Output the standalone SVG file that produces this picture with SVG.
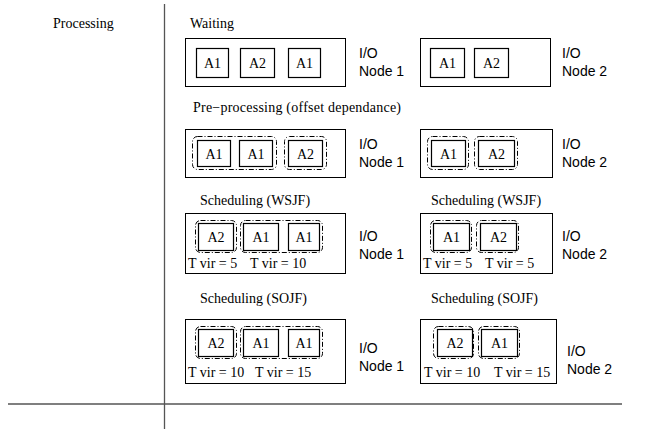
<svg xmlns="http://www.w3.org/2000/svg" width="649" height="429" viewBox="0 0 649 429">
<style>
.t{font-family:"Liberation Serif","Times New Roman",serif;font-size:14px;fill:#000}
.s{font-family:"Liberation Sans",Arial,sans-serif;font-size:14px;fill:#000}
.c{text-anchor:middle}
.box{fill:#fff;stroke:#000;stroke-width:1}
.a{fill:#fff;stroke:#000;stroke-width:1.2}
.g{fill:none;stroke:#000;stroke-width:1;stroke-dasharray:5,2,1,2}
.ln{stroke:#555;stroke-width:1.3;fill:none}
</style>
<g id="axes">
<line class="ln" x1="164.5" y1="4" x2="164.5" y2="429"/>
<line class="ln" x1="8" y1="404" x2="622" y2="404"/>
<text class="t" x="53" y="28">Processing</text>
</g>
<g id="connectors"></g>

<!-- Row 1 Waiting -->
<g id="row1-title"><text class="t" x="190" y="28">Waiting</text></g>
<g id="r1n1">
<rect class="box" x="185.5" y="38.5" width="160" height="48"/>
<rect class="a" x="196.5" y="48.5" width="32" height="29"/><text class="t c" x="212.5" y="68">A1</text>
<rect class="a" x="240.5" y="48.5" width="34" height="29"/><text class="t c" x="257.5" y="68">A2</text>
<rect class="a" x="288.5" y="48.5" width="32" height="29"/><text class="t c" x="304.5" y="68">A1</text>
<text class="s" x="359" y="58">I/O</text><text class="s" x="359" y="76">Node 1</text>
</g>
<g id="r1n2">
<rect class="box" x="420.5" y="38.5" width="130" height="48"/>
<rect class="a" x="430.5" y="48.5" width="34" height="29"/><text class="t c" x="447.5" y="68">A1</text>
<rect class="a" x="474.5" y="48.5" width="34" height="29"/><text class="t c" x="491.5" y="68">A2</text>
<text class="s" x="562" y="58">I/O</text><text class="s" x="562" y="76">Node 2</text>
</g>

<!-- Row 2 Pre-processing -->
<g id="row2-title"><text class="t" x="193" y="112" textLength="208">Pre−processing (offset dependance)</text></g>
<g id="r2n1">
<rect class="box" x="185.5" y="129.5" width="160" height="48"/>
<rect class="g" x="192.5" y="136.5" width="84" height="33" rx="5"/>
<rect class="g" x="284.5" y="136.5" width="42" height="33" rx="5"/>
<rect class="a" x="197.5" y="140.5" width="33" height="26"/><text class="t c" x="214" y="159">A1</text>
<rect class="a" x="239.5" y="140.5" width="33" height="26"/><text class="t c" x="256" y="159">A1</text>
<rect class="a" x="288.5" y="140.5" width="34" height="26"/><text class="t c" x="305.5" y="159">A2</text>
<text class="s" x="359" y="149">I/O</text><text class="s" x="359" y="167">Node 1</text>
</g>
<g id="r2n2">
<rect class="box" x="420.5" y="129.5" width="132" height="48"/>
<rect class="g" x="427.5" y="136.5" width="41" height="33" rx="5"/>
<rect class="g" x="474.5" y="136.5" width="43" height="33" rx="5"/>
<rect class="a" x="431.5" y="140.5" width="34" height="26"/><text class="t c" x="448.5" y="159">A1</text>
<rect class="a" x="478.5" y="140.5" width="36" height="26"/><text class="t c" x="496.5" y="159">A2</text>
<text class="s" x="562" y="149">I/O</text><text class="s" x="562" y="167">Node 2</text>
</g>

<!-- Row 3 WSJF -->
<g id="row3-title">
<text class="t" x="200" y="205">Scheduling (WSJF)</text>
<text class="t" x="431" y="205">Scheduling (WSJF)</text>
</g>
<g id="r3n1">
<rect class="box" x="185.5" y="213.5" width="160" height="60"/>
<rect class="g" x="195.5" y="220.5" width="41" height="32" rx="5"/>
<rect class="g" x="240.5" y="220.5" width="82" height="32" rx="5"/>
<rect class="a" x="198.5" y="223.5" width="35" height="27"/><text class="t c" x="216" y="242">A2</text>
<rect class="a" x="243.5" y="223.5" width="35" height="27"/><text class="t c" x="261" y="242">A1</text>
<rect class="a" x="288.5" y="223.5" width="31" height="27"/><text class="t c" x="304" y="242">A1</text>
<text class="t" x="188" y="268">T vir = 5</text><text class="t" x="250" y="268">T vir = 10</text>
<text class="s" x="359" y="241">I/O</text><text class="s" x="359" y="259">Node 1</text>
</g>
<g id="r3n2">
<rect class="box" x="420.5" y="213.5" width="132" height="60"/>
<rect class="g" x="430.5" y="220.5" width="41" height="32" rx="5"/>
<rect class="g" x="476.5" y="220.5" width="42" height="32" rx="5"/>
<rect class="a" x="433.5" y="223.5" width="36" height="27"/><text class="t c" x="451.5" y="242">A1</text>
<rect class="a" x="480.5" y="223.5" width="36" height="27"/><text class="t c" x="498.5" y="242">A2</text>
<text class="t" x="423" y="268">T vir = 5</text><text class="t" x="485" y="268">T vir = 5</text>
<text class="s" x="562" y="241">I/O</text><text class="s" x="562" y="259">Node 2</text>
</g>

<!-- Row 4 SOJF -->
<g id="row4-title">
<text class="t" x="200" y="303">Scheduling (SOJF)</text>
<text class="t" x="431" y="303">Scheduling (SOJF)</text>
</g>
<g id="r4n1">
<rect class="box" x="185.5" y="319.5" width="160" height="64"/>
<rect class="g" x="195.5" y="326.5" width="41" height="32" rx="5"/>
<rect class="g" x="240.5" y="326.5" width="82" height="32" rx="5"/>
<rect class="a" x="198.5" y="329.5" width="35" height="27"/><text class="t c" x="216" y="348">A2</text>
<rect class="a" x="243.5" y="329.5" width="35" height="27"/><text class="t c" x="261" y="348">A1</text>
<rect class="a" x="288.5" y="329.5" width="31" height="27"/><text class="t c" x="304" y="348">A1</text>
<text class="t" x="188" y="377">T vir = 10</text><text class="t" x="255" y="377">T vir = 15</text>
<text class="s" x="359" y="353">I/O</text><text class="s" x="359" y="371">Node 1</text>
</g>
<g id="r4n2">
<rect class="box" x="420.5" y="319.5" width="136" height="64"/>
<rect class="g" x="433.5" y="326.5" width="40" height="32" rx="5"/>
<rect class="g" x="478.5" y="326.5" width="41" height="32" rx="5"/>
<rect class="a" x="437.5" y="329.5" width="35" height="27"/><text class="t c" x="455" y="348">A2</text>
<rect class="a" x="481.5" y="329.5" width="36" height="27"/><text class="t c" x="499.5" y="348">A1</text>
<text class="t" x="424" y="377">T vir = 10</text><text class="t" x="494" y="377">T vir = 15</text>
<text class="s" x="567" y="356">I/O</text><text class="s" x="567" y="374">Node 2</text>
</g>
</svg>
